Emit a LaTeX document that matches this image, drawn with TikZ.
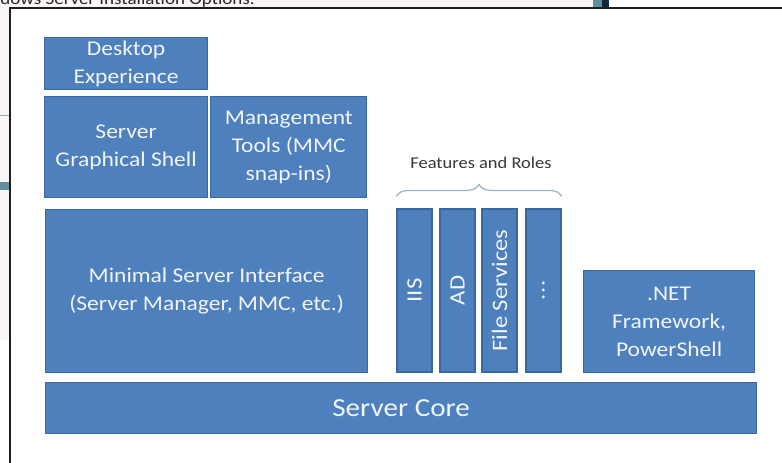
\documentclass[tikz,border=0pt]{standalone}
\usepackage{fontspec}
\setmainfont{Carlito}[FakeStretch=1.12]
\usepackage{tikz}
\usetikzlibrary{positioning,decorations.pathreplacing}
\definecolor{layerblue}{HTML}{4E80BE}
\definecolor{layeredge}{HTML}{3A679C}
\definecolor{layertext}{HTML}{F2F5FA}
\definecolor{bracegray}{HTML}{9BB0CC}
\definecolor{shotpink}{HTML}{F8F4F7}
\definecolor{shotteal}{HTML}{5E8F9B}
\definecolor{shotdark}{HTML}{0F2B3A}
\tikzset{
    layer-box/.style = {draw=layeredge, fill=layerblue, line width=1.2pt, rectangle, text=layertext, align=center, inner sep=2pt, font=\fontsize{21}{28}\selectfont},
    feature-bar/.style = {layer-box, rotate=90, minimum width=163pt, minimum height=35pt, font=\fontsize{22}{26}\selectfont},
    feature-brace/.style = {draw=bracegray, line width=1.2pt, decorate, decoration={brace, amplitude=12pt}},
    roles-label/.style = {text=black!78, font=\fontsize{16.5}{20}\selectfont},
}

\begin{document}
\begin{tikzpicture}[x=1pt, y=-1pt]
\useasboundingbox (0,0) rectangle (782,463);
\fill[white] (0,0) rectangle (782,463);

% screenshot edges
\begin{scope}
\clip (0,0) rectangle (782,463);
\fill[shotpink] (0,0) rectangle (593,8);
\fill[shotpink] (0,8) rectangle (10,340);
\draw[black!35, line width=0.8pt] (0,115) -- (10,115);
\fill[shotteal] (0,182) rectangle (10,190);
\fill[shotteal] (593,0) rectangle (602,8);
\fill[shotdark] (602,0) rectangle (609,8);
\node[anchor=base east, inner sep=0pt, text=black!85, font=\fontsize{17}{20}\selectfont] (title) at (255,5) {Windows Server Installation Options.};
\end{scope}
\draw[black!88, line width=1.8pt] (10,463) -- (10,8) -- (782,8);

\node[layer-box, anchor=north west, minimum width=163pt, minimum height=52pt] (desktop) at (44,37) {Desktop\\Experience};
\node[layer-box, minimum width=163pt, minimum height=101pt, below=6pt of desktop] (shell) {Server\\Graphical Shell};
\node[layer-box, minimum width=156pt, minimum height=101pt, right=2pt of shell] (mgmt) {Management\\Tools (MMC\\snap-ins)};
\node[layer-box, anchor=north west, minimum width=322pt, minimum height=163pt] (minimal) at (45,209) {Minimal Server Interface\\(Server Manager, MMC, etc.)};

\foreach \name/\x/\txt in {iis/414.5/IIS, ad/457.5/AD, files/499.5/File Services, more/543.5/{.\kern1pt.\kern1pt.}}
    \node[feature-bar] (\name) at (\x,290.5) {\txt};

\draw[feature-brace] ([yshift=12pt]iis.north east) -- ([yshift=12pt]more.south east);
\node[roles-label] (roles) at (481,163) {Features and Roles};

\node[layer-box, anchor=north west, minimum width=171pt, minimum height=102pt] (dotnet) at (583,270) {.NET\\Framework,\\PowerShell};
\node[layer-box, anchor=north west, minimum width=711pt, minimum height=51pt, font=\fontsize{26}{30}\selectfont] (core) at (45,382) {Server Core};
\end{tikzpicture}
\end{document}
